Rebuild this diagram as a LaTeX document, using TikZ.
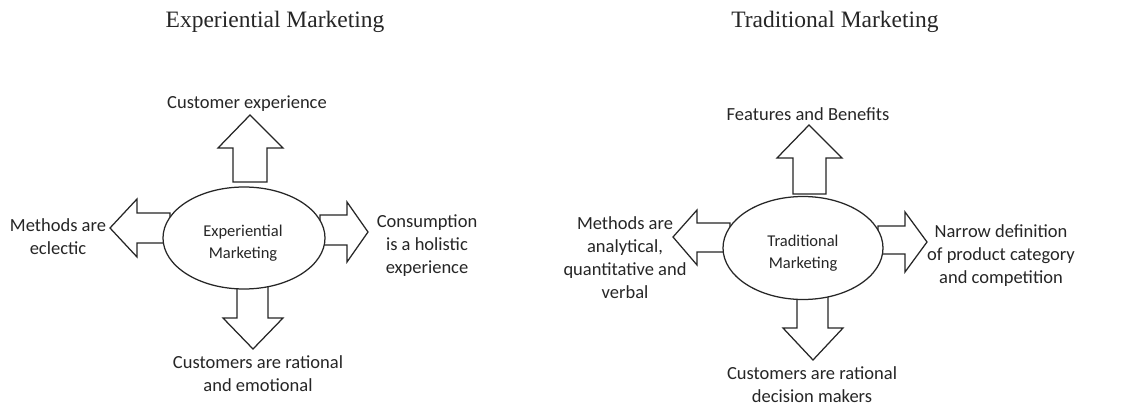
\documentclass[tikz,border=0pt]{standalone}
\usepackage{fontspec}
\setmainfont{Carlito}
\newfontfamily\titlefont{Liberation Serif}
\usetikzlibrary{shapes.geometric}
\definecolor{ink}{HTML}{262626}
\tikzset{
  blockarrow/.style={draw=ink, line width=1.25pt, fill=white, line join=miter},
  hub/.style={ellipse, draw=ink, line width=1.25pt, fill=white, inner sep=0pt},
  hubtext/.style={align=center, inner sep=0pt, text=ink, font=\fontsize{16.5}{22}\selectfont},
  lbl/.style={align=center, inner sep=0pt, text=ink, font=\fontsize{18.5}{23}\selectfont},
  heading/.style={inner sep=0pt, text=ink, font=\titlefont\fontsize{23.5}{27}\selectfont}
}
\begin{document}
\begin{tikzpicture}[x=1pt,y=-1pt]
\useasboundingbox[fill=white] (0,0) rectangle (1126,406);

% ---------- Experiential Marketing ----------
\node[heading] (t1) at (275,22) {Experiential Marketing};

\draw[blockarrow] (233,182) -- (233,148) -- (218,148) -- (250,115) -- (283,148) -- (267,148) -- (267,182) -- cycle;
\draw[blockarrow] (170,213) -- (137,213) -- (137,199) -- (110,228) -- (137,257) -- (137,243) -- (170,243) -- cycle;
\draw[blockarrow] (320,215) -- (347,215) -- (347,202) -- (368,232) -- (347,262) -- (347,245) -- (320,245) -- cycle;
\draw[blockarrow] (237,282) -- (237,318) -- (223,318) -- (253,349) -- (283,318) -- (268,318) -- (268,282) -- cycle;

\node[hub, minimum width=162pt, minimum height=102pt] (e1) at (244,238) {};
\node[hubtext] (e1txt) at (243,243.5) {Experiential\\Marketing};

\node[lbl] (e1up) at (247,104) {Customer experience};
\node[lbl] (e1left) at (58,237) {Methods are\\eclectic};
\node[lbl] (e1right) at (427,246) {Consumption\\is a holistic\\experience};
\node[lbl] (e1down) at (258,374) {Customers are rational\\and emotional};

% ---------- Traditional Marketing ----------
\node[heading] (t2) at (835,22) {Traditional Marketing};

\draw[blockarrow] (793,194) -- (793,158) -- (777,158) -- (809,125) -- (842,158) -- (826,158) -- (826,194) -- cycle;
\draw[blockarrow] (730,223) -- (697,223) -- (697,210) -- (673,237) -- (697,265) -- (697,252) -- (730,252) -- cycle;
\draw[blockarrow] (878,226) -- (905,226) -- (905,212) -- (927,242) -- (905,272) -- (905,254) -- (878,254) -- cycle;
\draw[blockarrow] (797,294) -- (797,328) -- (783,328) -- (813,360) -- (843,328) -- (828,328) -- (828,294) -- cycle;

\node[hub, minimum width=160pt, minimum height=103pt] (e2) at (803,248) {};
\node[hubtext] (e2txt) at (803,253.5) {Traditional\\Marketing};

\node[lbl] (e2up) at (808,114) {Features and Benefits};
\node[lbl] (e2left) at (625,258) {Methods are\\analytical,\\quantitative and\\verbal};
\node[lbl] (e2right) at (1001,256) {Narrow definition\\of product category\\and competition};
\node[lbl] (e2down) at (812,385) {Customers are rational\\decision makers};
\end{tikzpicture}
\end{document}
